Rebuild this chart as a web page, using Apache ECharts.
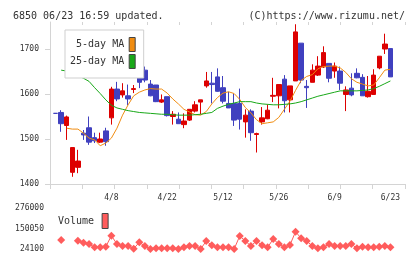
<!DOCTYPE html>
<html>
<head>
<meta charset="utf-8">
<script src="https://cdn.jsdelivr.net/npm/echarts@6/dist/echarts.min.js"></script>
<style>
  html, body { margin: 0; padding: 0; background: #fff; }
  #chart { width: 420px; height: 259px; }
</style>
</head>
<body>
<div id="chart"></div>
<script>
// trading days shown on the chart
const dates = [
  '3/25', '3/26', '3/27', '3/28', '3/31', '4/1', '4/2', '4/3', '4/4', '4/7',
  '4/8', '4/9', '4/10', '4/11', '4/14', '4/15', '4/16', '4/17', '4/18', '4/21',
  '4/22', '4/23', '4/24', '4/25', '4/28', '4/30', '5/1', '5/7', '5/8', '5/9',
  '5/12', '5/13', '5/14', '5/15', '5/16', '5/19', '5/20', '5/21', '5/22', '5/23',
  '5/26', '5/27', '5/28', '5/29', '5/30', '6/2', '6/3', '6/4', '6/5', '6/6',
  '6/9', '6/10', '6/11', '6/12', '6/13', '6/16', '6/17', '6/18', '6/19', '6/20',
  '6/23'
];

const opens = [
  1557, 1559, 1530, 1426, 1437, 1513, 1525, 1503, 1493, 1518,
  1547, 1611, 1598, 1596, 1610, 1638, 1653, 1622, 1620, 1582,
  1594, 1550, 1544, 1532, 1542, 1562, 1582, 1618, 1624, 1638,
  1614, 1579, 1579, 1579, 1538, 1562, 1510, 1538, 1545, 1595,
  1596, 1633, 1587, 1629, 1713, 1617, 1626, 1642, 1660, 1668,
  1651, 1651, 1599, 1613, 1646, 1637, 1594, 1599, 1658, 1700,
  1701
];
const closes = [
  1557, 1534, 1549, 1481, 1451, 1509, 1493, 1496, 1500, 1494,
  1611, 1589, 1607, 1589, 1612, 1626, 1631, 1596, 1583, 1587,
  1552, 1555, 1534, 1540, 1566, 1576, 1587, 1629, 1621, 1606,
  1584, 1569, 1542, 1544, 1553, 1514, 1512, 1547, 1564, 1597,
  1621, 1585, 1618, 1738, 1631, 1614, 1653, 1662, 1692, 1635,
  1662, 1624, 1609, 1598, 1636, 1596, 1606, 1642, 1684, 1711,
  1638
];
const lows = [
  1557, 1516, 1498, 1416, 1424, 1498, 1487, 1491, 1491, 1485,
  1532, 1584, 1592, 1575, 1602, 1613, 1626, 1595, 1582, 1580,
  1550, 1532, 1534, 1524, 1540, 1559, 1555, 1614, 1579, 1605,
  1579, 1569, 1529, 1521, 1503, 1496, 1470, 1532, 1544, 1582,
  1568, 1559, 1559, 1629, 1624, 1569, 1626, 1640, 1658, 1626,
  1636, 1609, 1562, 1595, 1635, 1596, 1592, 1598, 1655, 1689,
  1638
];
const highs = [
  1557, 1564, 1552, 1481, 1476, 1520, 1550, 1514, 1514, 1525,
  1616, 1627, 1624, 1621, 1620, 1664, 1661, 1631, 1620, 1599,
  1594, 1562, 1559, 1557, 1566, 1584, 1587, 1649, 1649, 1657,
  1640, 1605, 1601, 1612, 1566, 1566, 1514, 1571, 1577, 1636,
  1621, 1642, 1618, 1755, 1713, 1631, 1666, 1684, 1706, 1668,
  1670, 1661, 1617, 1646, 1657, 1644, 1640, 1655, 1684, 1734,
  1701
];

const ma5 = [
  null, null, 1524, 1522, 1522, 1513, 1502, 1498, 1485, 1491,
  1502, 1524, 1553, 1576, 1596, 1604, 1609, 1612, 1611, 1611,
  1602, 1589, 1578, 1566, 1560, 1554, 1553, 1561, 1578, 1592,
  1602, 1605, 1601, 1588, 1570, 1558, 1543, 1534, 1536, 1538,
  1548, 1566, 1584, 1608, 1630, 1639, 1643, 1656, 1661, 1662,
  1662, 1658, 1648, 1634, 1626, 1622, 1618, 1620, 1636, 1653,
  1655
];
const ma25 = [
  null, 1653, 1651, 1646, 1641, 1635, 1628, 1614, 1601, 1587,
  1575, 1569, 1566, 1563, 1561, 1559, 1558, 1557, 1556, 1555,
  1555, 1554, 1553, 1553, 1553, 1554, 1555, 1557, 1559, 1568,
  1573, 1577, 1580, 1583, 1583, 1583, 1580, 1578, 1577, 1576,
  1576, 1577, 1578, 1580, 1583, 1587, 1591, 1595, 1598, 1601,
  1604, 1607, 1607, 1607, 1607, 1608, 1609, 1612, 1617, 1623,
  1629
];

const volumes = [
  null, 79400, null, null, 75100, 62800, 54800, 34500, 34500, 38200,
  105800, 54800, 42500, 42500, 26000, 65300, 42500, 24100, 28400, 28400,
  28400, 28400, 24100, 34500, 42500, 42500, 24100, 73200, 46800, 34500,
  34500, 34500, 24100, 104000, 73200, 42500, 73200, 46800, 34500, 85500,
  54800, 34500, 48700, 130400, 89800, 73200, 42500, 28400, 34500, 54800,
  42500, 42500, 42500, 54800, 28400, 38200, 34500, 34500, 38200, 42500,
  34500
];

const priceTicks = [1400, 1500, 1600, 1700];
const labelDates = ['4/8', '4/22', '5/12', '5/26', '6/9', '6/23'];

const FONT = "'DejaVu Sans Mono', 'Liberation Mono', monospace";
const TXT = '#333';
const AXIS = '#d4d4d4';

// one empty slot on each side of the data
const cats = [''].concat(dates, ['']);
const candles = opens.map((o, i) => [o, closes[i], lows[i], highs[i]]);
const pad = arr => [null].concat(arr, [null]);
const plain = v => String(v);

const chart = echarts.init(document.getElementById('chart'), null, { renderer: 'canvas' });

const TOP = 22;
const PMIN = 1400;
const PMAX = 1760;

const option = {
  animation: false,
  title: [
    {
      text: '6850 06/23 16:59 updated.',
      left: 8, top: 6,
      textStyle: { fontFamily: FONT, fontSize: 10, fontWeight: 'normal', color: TXT }
    },
    {
      text: '(C)https://www.rizumu.net/',
      right: 10, top: 6,
      textStyle: { fontFamily: FONT, fontSize: 10, fontWeight: 'normal', color: TXT }
    }
  ],
  legend: [
    {
      data: ['5-day MA', '25-day MA'],
      orient: 'vertical',
      align: 'right',
      left: 65, top: 30,
      padding: [7, 8, 9, 5],
      itemWidth: 6, itemHeight: 14, itemGap: 2,
      icon: 'rect',
      backgroundColor: '#fff',
      borderColor: '#cfcfcf',
      borderWidth: 1,
      itemStyle: { borderColor: '#444', borderWidth: 1 },
      selectedMode: false,
      textStyle: { fontFamily: FONT, fontSize: 10, color: TXT, width: 56, align: 'right' }
    },
    {
      data: ['Volume'],
      orient: 'vertical',
      align: 'right',
      left: 58, top: 213,
      padding: 0,
      itemWidth: 6, itemHeight: 15,
      icon: 'rect',
      itemStyle: { borderColor: '#444', borderWidth: 1 },
      selectedMode: false,
      textStyle: { fontFamily: FONT, fontSize: 10, color: TXT, width: 36, align: 'right', padding: [0, 3, 0, 0] }
    }
  ],
  grid: [
    { left: 50, top: TOP, width: 346, bottom: 75 },
    { left: 50, top: TOP, right: 15, bottom: 75 },
    { left: 50, top: 208, width: 346, height: 41 }
  ],
  xAxis: [
    {
      type: 'category', gridIndex: 0, data: cats, boundaryGap: false,
      axisLine: { show: false }, axisTick: { show: false },
      axisLabel: {
        interval: 0,
        margin: 10,
        fontFamily: FONT, fontSize: 8, color: TXT,
        formatter: v => (labelDates.indexOf(v) >= 0 ? v : '')
      }
    },
    {
      type: 'value', gridIndex: 1, min: 0, max: 11, interval: 1,
      axisLine: { lineStyle: { color: AXIS } },
      axisTick: { length: 5, lineStyle: { color: AXIS } },
      axisLabel: { show: false }, splitLine: { show: false }
    },
    {
      type: 'value', gridIndex: 1, min: 0, max: 11, interval: 1,
      axisLine: { show: false },
      axisTick: { inside: true, length: 3, lineStyle: { color: AXIS } },
      axisLabel: { show: false }, splitLine: { show: false }
    },
    {
      type: 'category', gridIndex: 2, data: cats, boundaryGap: false, show: false
    }
  ],
  yAxis: [
    { type: 'value', gridIndex: 0, min: PMIN, max: PMAX, show: false },
    {
      type: 'value', gridIndex: 1, min: PMIN, max: PMAX,
      axisLine: { show: true, lineStyle: { color: AXIS } },
      axisTick: { show: true, length: 5, customValues: priceTicks, lineStyle: { color: AXIS } },
      axisLabel: { margin: 11, customValues: priceTicks, formatter: plain, fontFamily: FONT, fontSize: 8, color: TXT },
      splitLine: { show: false }
    },
    {
      type: 'value', gridIndex: 1, min: PMIN, max: PMAX,
      axisLine: { show: false },
      axisTick: { show: true, inside: true, length: 3, customValues: priceTicks, lineStyle: { color: AXIS } },
      axisLabel: { show: false }, splitLine: { show: false }
    },
    {
      type: 'value', gridIndex: 2, min: 24100, max: 276000, interval: 125950,
      axisLine: { show: false }, axisTick: { show: false },
      axisLabel: { margin: 6, formatter: plain, fontFamily: FONT, fontSize: 8, color: TXT },
      splitLine: { show: false }
    }
  ],
  series: [
    {
      name: 'price',
      type: 'candlestick',
      xAxisIndex: 0, yAxisIndex: 0,
      data: pad(candles).map(c => (c === null ? '-' : c)),
      barWidth: 5,
      itemStyle: {
        color: '#dd0000', color0: '#4040bf',
        borderColor: '#dd0000', borderColor0: '#4040bf', borderWidth: 1
      }
    },
    {
      name: '5-day MA',
      type: 'line',
      xAxisIndex: 0, yAxisIndex: 0,
      data: pad(ma5),
      showSymbol: false,
      color: '#f08c10',
      lineStyle: { width: 1, color: '#f08c10' }
    },
    {
      name: '25-day MA',
      type: 'line',
      xAxisIndex: 0, yAxisIndex: 0,
      data: pad(ma25),
      showSymbol: false,
      color: '#18a818',
      lineStyle: { width: 1, color: '#18a818' }
    },
    {
      name: 'Volume',
      type: 'line',
      xAxisIndex: 3, yAxisIndex: 3,
      data: pad(volumes),
      symbol: 'diamond',
      symbolSize: 8,
      showAllSymbol: true,
      color: '#ff5c5c',
      itemStyle: { color: '#ff5c5c' },
      lineStyle: { width: 1, color: '#ff5c5c' }
    }
  ]
};

chart.setOption(option);
</script>
</body>
</html>
